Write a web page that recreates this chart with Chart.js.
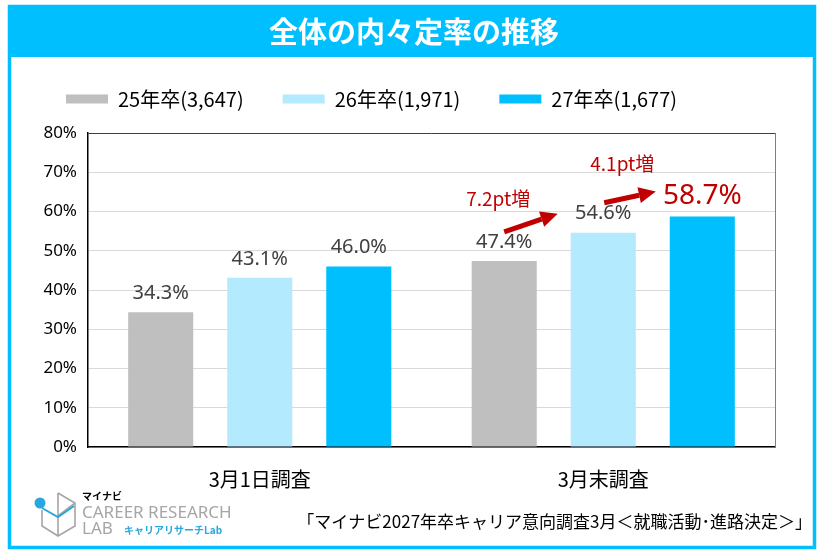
<!DOCTYPE html>
<html lang="ja">
<head>
<meta charset="utf-8">
<title>全体の内々定率の推移</title>
<script src="https://cdn.jsdelivr.net/npm/chart.js@4.4.1/dist/chart.umd.min.js"></script>
<style>
  html, body { margin: 0; padding: 0; background: #fff; }
  #wrap { width: 823px; height: 554px; }
</style>
</head>
<body>
<div id="wrap"><canvas id="naiteiChart" width="823" height="554"></canvas></div>
<script>
// データ
const categories = ['3月1日調査', '3月末調査'];
const seriesNames = ['25年卒(3,647)', '26年卒(1,971)', '27年卒(1,677)'];
const values25 = [34.3, 47.4];
const values26 = [43.1, 54.6];
const values27 = [46.0, 58.7];
const yTicks = [0, 10, 20, 30, 40, 50, 60, 70, 80];
const increases = ['7.2pt増', '4.1pt増'];

const seriesColors = ['#BFBFBF', '#B3EAFD', '#00BFFF'];
const JP = '"Noto Sans CJK JP", "Noto Sans", sans-serif';
const NUM = '"Noto Sans", "DejaVu Sans", sans-serif';

// 凡例とグラフの間隔を広げる
const legendGap = {
    id: 'legendGap',
    beforeInit(chart) {
        const fit = chart.legend.fit;
        chart.legend.fit = function () {
            fit.call(this);
            this.height += 14;
        };
    }
};

// 枠・タイトル・フッター
const framePlugin = {
    id: 'frame',
    beforeDraw(chart) {
        const ctx = chart.ctx;
        ctx.save();
        ctx.fillStyle = '#fff';
        ctx.fillRect(0, 0, chart.width, chart.height);
        // タイトル帯
        ctx.fillStyle = '#00BFFF';
        ctx.fillRect(8, 5, 808, 52);
        ctx.strokeStyle = '#00BFFF';
        ctx.lineWidth = 3.5;
        ctx.strokeRect(9.5, 6.5, 805, 541);
        ctx.fillStyle = '#fff';
        ctx.font = 'bold 29px ' + JP;
        ctx.textAlign = 'center';
        ctx.textBaseline = 'middle';
        ctx.fillText('全体の内々定率の推移', 414, 32);
        ctx.restore();
    },
    afterDraw(chart) {
        const ctx = chart.ctx;
        ctx.save();
        // 出典
        ctx.fillStyle = '#000';
        ctx.font = '17px ' + JP;
        ctx.textAlign = 'right';
        ctx.textBaseline = 'middle';
        ctx.fillText('「マイナビ2027年卒キャリア意向調査3月＜就職活動･進路決定＞」', 812, 522);

        // ロゴ
        ctx.strokeStyle = '#A6A6A6';
        ctx.lineWidth = 1.6;
        ctx.beginPath();
        ctx.moveTo(58, 493); ctx.lineTo(75, 503); ctx.lineTo(75, 526);
        ctx.lineTo(58, 536); ctx.lineTo(42, 526); ctx.lineTo(42, 510);
        ctx.moveTo(58, 493); ctx.lineTo(58, 536);
        ctx.moveTo(75, 503); ctx.lineTo(58, 516);
        ctx.stroke();
        ctx.strokeStyle = '#29A8E0';
        ctx.lineWidth = 2;
        ctx.beginPath();
        ctx.moveTo(42, 508); ctx.lineTo(58, 517); ctx.lineTo(74, 506);
        ctx.stroke();
        ctx.fillStyle = '#29A8E0';
        ctx.beginPath();
        ctx.arc(40, 503, 5.5, 0, Math.PI * 2);
        ctx.fill();

        ctx.textAlign = 'left';
        ctx.fillStyle = '#000';
        ctx.font = 'bold 10px ' + JP;
        ctx.fillText('マイナビ', 82, 496);
        ctx.fillStyle = '#A6A6A6';
        ctx.font = '17px ' + NUM;
        ctx.fillText('CAREER RESEARCH', 82, 513);
        ctx.fillText('LAB', 82, 529);
        ctx.fillStyle = '#29A8E0';
        ctx.font = 'bold 10px ' + JP;
        ctx.fillText('キャリアリサーチLab', 124, 530);
        ctx.restore();
    }
};

// プロット枠（右端）、値ラベル、矢印
const labelPlugin = {
    id: 'valueLabels',
    afterDatasetsDraw(chart) {
        const ctx = chart.ctx;
        const area = chart.chartArea;
        ctx.save();
        ctx.strokeStyle = '#7F7F7F';
        ctx.lineWidth = 1;
        ctx.beginPath();
        ctx.moveTo(area.right + 0.5, area.top);
        ctx.lineTo(area.right + 0.5, area.bottom);
        ctx.stroke();

        ctx.textAlign = 'center';
        ctx.textBaseline = 'middle';
        chart.data.datasets.forEach((ds, di) => {
            const meta = chart.getDatasetMeta(di);
            meta.data.forEach((bar, i) => {
                const isLast = di === 2 && i === 1;
                ctx.fillStyle = isLast ? '#C00000' : '#404040';
                ctx.font = (isLast ? '28px ' : '20px ') + NUM;
                ctx.fillText(ds.data[i].toFixed(1) + '%', bar.x, bar.y - (isLast ? 21 : 19));
            });
        });

        const b25 = chart.getDatasetMeta(0).data[1];
        const b26 = chart.getDatasetMeta(1).data[1];
        const b27 = chart.getDatasetMeta(2).data[1];
        const arrows = [
            [b25.x, b25.y - 29, b26.x - b26.width / 2 - 13, b26.y - 19],
            [b26.x + 1, b26.y - 30, b27.x - b27.width / 2 - 14, b27.y - 25]
        ];
        ctx.strokeStyle = '#C00000';
        ctx.fillStyle = '#C00000';
        arrows.forEach(([x1, y1, x2, y2]) => {
            const ang = Math.atan2(y2 - y1, x2 - x1);
            const headLen = 17, headW = 8;
            const bx = x2 - headLen * Math.cos(ang);
            const by = y2 - headLen * Math.sin(ang);
            ctx.lineWidth = 5;
            ctx.beginPath();
            ctx.moveTo(x1, y1);
            ctx.lineTo(bx, by);
            ctx.stroke();
            ctx.beginPath();
            ctx.moveTo(x2, y2);
            ctx.lineTo(bx + headW * Math.sin(ang), by - headW * Math.cos(ang));
            ctx.lineTo(bx - headW * Math.sin(ang), by + headW * Math.cos(ang));
            ctx.closePath();
            ctx.fill();
        });

        ctx.font = '19px ' + JP;
        ctx.fillText(increases[0], b25.x - 6, b26.y - 34);
        ctx.fillText(increases[1], b26.x + 19, b27.y - 53);
        ctx.restore();
    }
};

const ctx = document.getElementById('naiteiChart').getContext('2d');
new Chart(ctx, {
    type: 'bar',
    data: {
        labels: categories,
        datasets: [
            { label: seriesNames[0], data: values25, backgroundColor: seriesColors[0] },
            { label: seriesNames[1], data: values26, backgroundColor: seriesColors[1] },
            { label: seriesNames[2], data: values27, backgroundColor: seriesColors[2] }
        ]
    },
    options: {
        responsive: false,
        animation: false,
        layout: { padding: { top: 50, left: 27, right: 48, bottom: 51 } },
        datasets: {
            bar: { categoryPercentage: 0.865, barPercentage: 0.657 }
        },
        plugins: {
            legend: {
                position: 'top',
                align: 'start',
                labels: {
                    boxWidth: 42,
                    boxHeight: 9,
                    padding: 39,
                    color: '#000',
                    font: { family: JP, size: 20 }
                }
            },
            tooltip: { enabled: false }
        },
        scales: {
            x: {
                grid: { display: false },
                border: { color: '#000', width: 1.5 },
                ticks: {
                    color: '#000',
                    padding: 12,
                    font: { family: JP, size: 20 }
                }
            },
            y: {
                min: yTicks[0],
                max: yTicks[yTicks.length - 1],
                afterFit(axis) { axis.width = 61; },
                afterBuildTicks(axis) { axis.ticks = yTicks.map(v => ({ value: v })); },
                border: { color: '#000', width: 1.5 },
                grid: {
                    color: c => (c.tick && c.tick.value === 80 ? '#404040' : '#D9D9D9'),
                    lineWidth: 1,
                    drawTicks: false
                },
                ticks: {
                    color: '#000',
                    padding: 11,
                    font: { family: NUM, size: 17 },
                    callback: v => v + '%'
                }
            }
        }
    },
    plugins: [legendGap, framePlugin, labelPlugin]
});
</script>
</body>
</html>
